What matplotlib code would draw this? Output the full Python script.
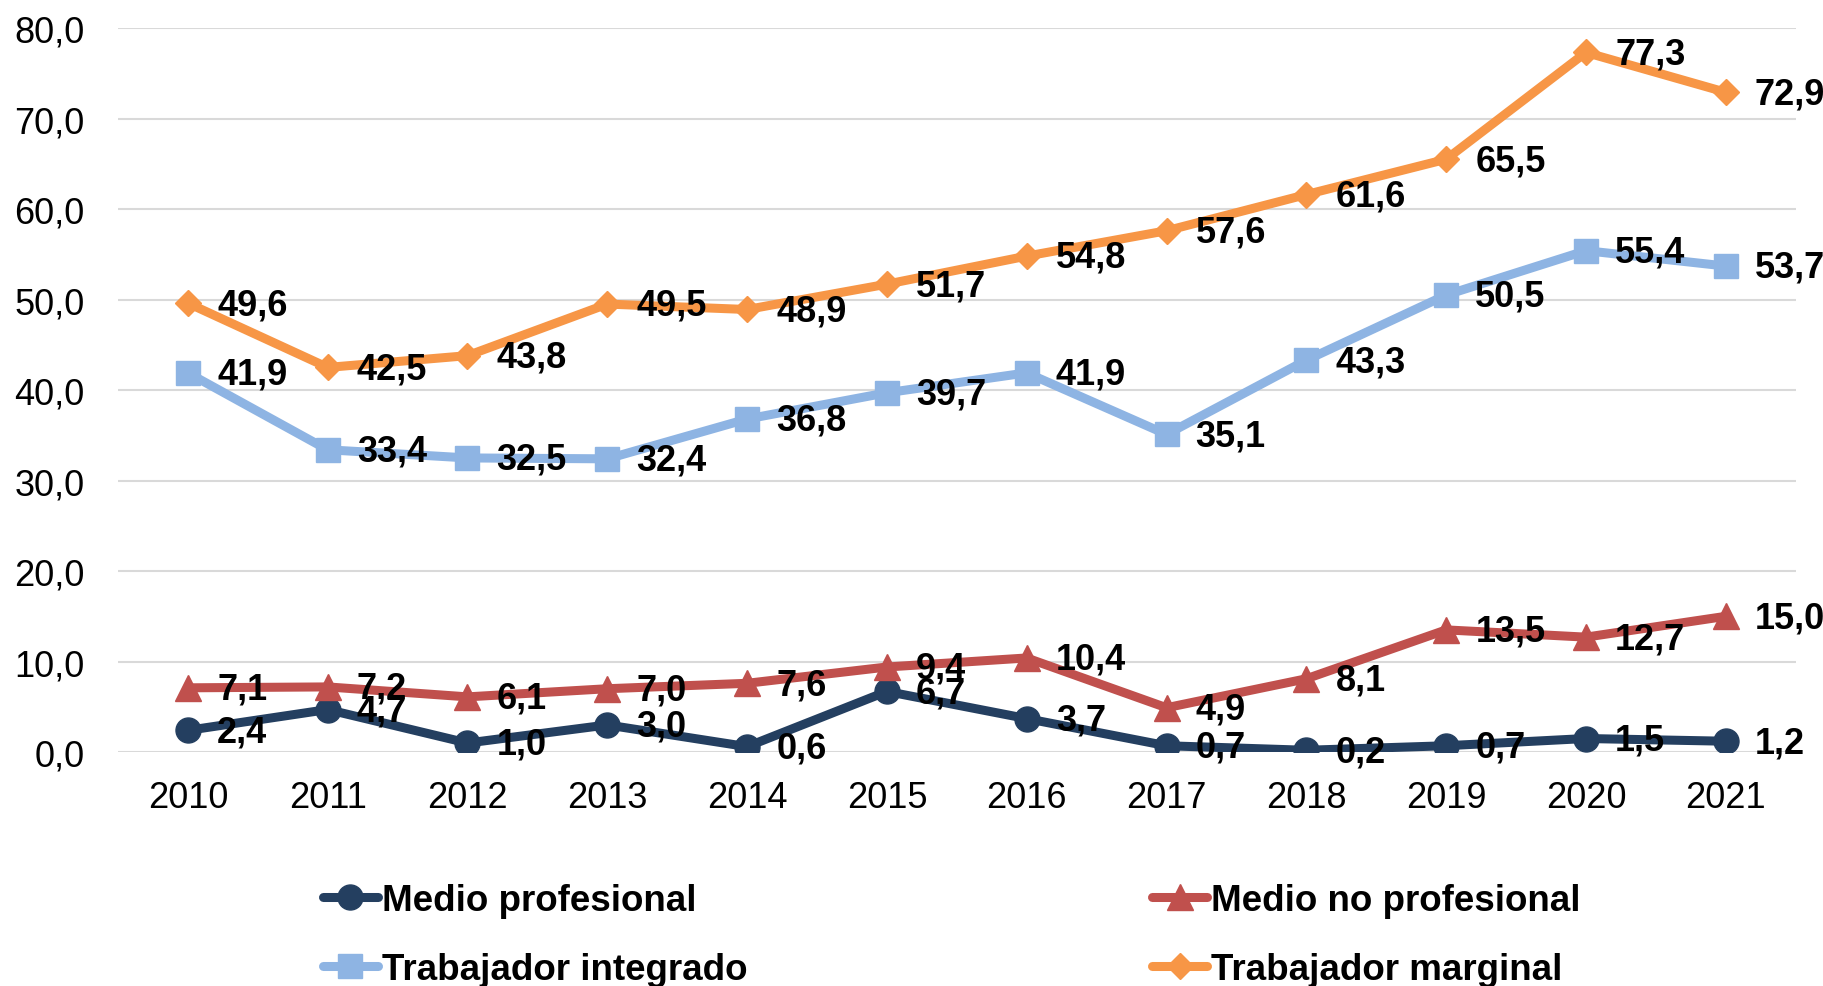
import matplotlib.pyplot as plt
import numpy as np

plt.rcParams['font.family'] = ['Liberation Sans', 'DejaVu Sans']

years = [2010, 2011, 2012, 2013, 2014, 2015, 2016, 2017, 2018, 2019, 2020, 2021]
medio_prof = [2.4, 4.7, 1.0, 3.0, 0.6, 6.7, 3.7, 0.7, 0.2, 0.7, 1.5, 1.2]
medio_no_prof = [7.1, 7.2, 6.1, 7.0, 7.6, 9.4, 10.4, 4.9, 8.1, 13.5, 12.7, 15.0]
trab_integrado = [41.9, 33.4, 32.5, 32.4, 36.8, 39.7, 41.9, 35.1, 43.3, 50.5, 55.4, 53.7]
trab_marginal = [49.6, 42.5, 43.8, 49.5, 48.9, 51.7, 54.8, 57.6, 61.6, 65.5, 77.3, 72.9]

series = [
    ("Medio profesional", medio_prof, "#243F60", "o", 18),
    ("Medio no profesional", medio_no_prof, "#C0504D", "^", 19),
    ("Trabajador integrado", trab_integrado, "#8EB4E3", "s", 17),
    ("Trabajador marginal", trab_marginal, "#F79646", "D", 13),
]

fig = plt.figure(figsize=(18.23, 9.87), dpi=100)
ax = fig.add_axes([0.0647, 0.237, 0.9203, 0.7336])

x = np.arange(len(years))
for name, vals, col, mk, ms in series:
    ax.plot(x, vals, color=col, lw=6.5, marker=mk, markersize=ms,
            markeredgecolor=col, label=name, solid_capstyle='round', zorder=3)

for name, vals, col, mk, ms in series:
    for xi, v in zip(x, vals):
        ax.annotate(f"{v:.1f}".replace(".", ","), (xi, v), xytext=(21, -1),
                    textcoords='offset points', ha='left', va='center',
                    fontsize=26, fontweight='bold', color='black', zorder=5)

ax.set_xlim(-0.5, len(years) - 0.5)
ax.set_ylim(0, 80)
ax.set_yticks(np.arange(0, 81, 10))
ax.set_yticklabels([f"{t:.1f}".replace(".", ",") for t in np.arange(0, 81, 10)])
ax.set_xticks(x)
ax.set_xticklabels([str(y) for y in years])
ax.tick_params(axis='both', length=0, labelsize=26)
ax.tick_params(axis='y', pad=24)
ax.tick_params(axis='x', pad=20)
ax.yaxis.grid(True, color='#D9D9D9', lw=1.5)
ax.set_axisbelow(True)
for s in ax.spines.values():
    s.set_visible(False)

# legend fills by column, so reorder to get the row layout of the original
handles, labels = ax.get_legend_handles_labels()
order = [0, 2, 1, 3]
leg = fig.legend([handles[i] for i in order], [labels[i] for i in order],
                 ncol=2, loc='center left',
                 bbox_to_anchor=(0.177, 0.052), frameon=False,
                 prop={'size': 26.5, 'weight': 'bold'}, handlelength=1.5,
                 handletextpad=0.1, columnspacing=11.0, labelspacing=0.93,
                 borderpad=0, borderaxespad=0)

fig.savefig("out.png", dpi=100)
